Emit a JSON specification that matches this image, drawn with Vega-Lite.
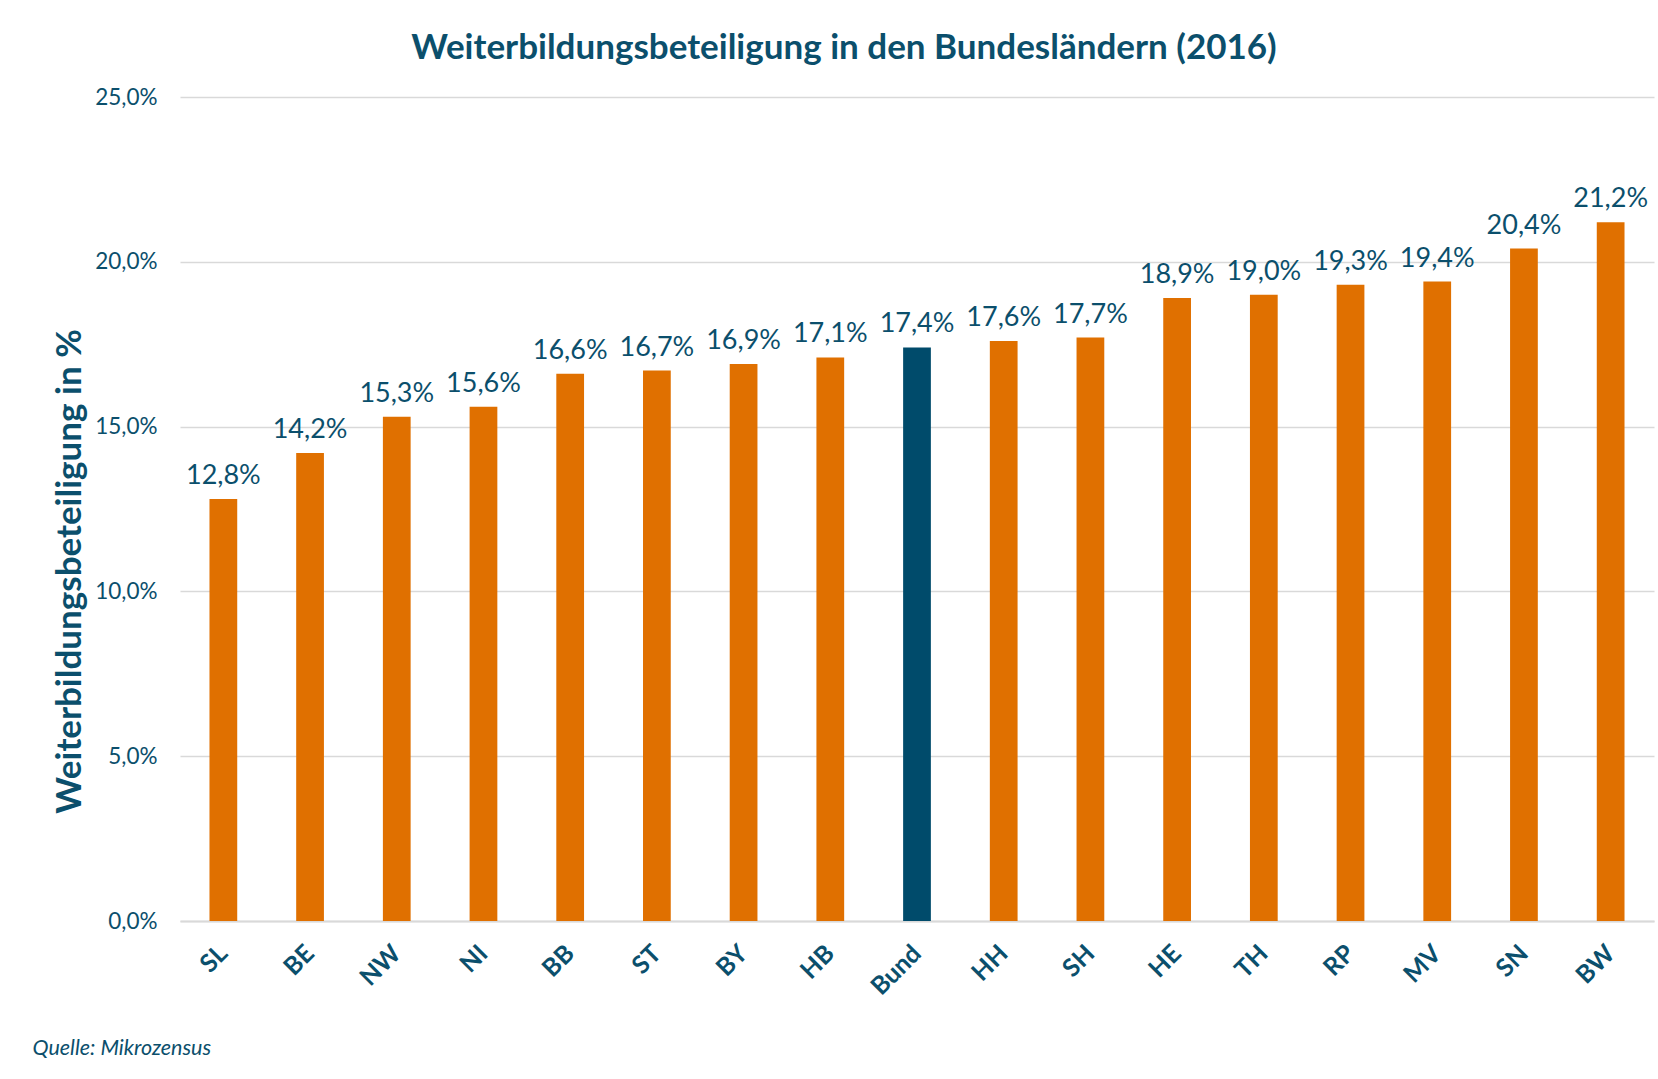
{
  "$schema": "https://vega.github.io/schema/vega-lite/v6.json",
  "width": 1474,
  "height": 824,
  "autosize": "none",
  "padding": {"left": 180, "top": 97, "right": 4, "bottom": 158},
  "background": "white",
  "title": {
    "text": "Weiterbildungsbeteiligung in den Bundesländern (2016)",
    "font": "Lato",
    "fontSize": 35,
    "fontWeight": "bold",
    "color": "#0b4f6c",
    "anchor": "middle",
    "dx": -73,
    "offset": 20
  },
  "config": {
    "locale": {"number": {"decimal": ",", "thousands": ".", "grouping": [3], "currency": ["", " €"]}},
    "view": {"stroke": null}
  },
  "data": {
    "values": [
      {"land": "SL", "wert": 0.128},
      {"land": "BE", "wert": 0.142},
      {"land": "NW", "wert": 0.153},
      {"land": "NI", "wert": 0.156},
      {"land": "BB", "wert": 0.166},
      {"land": "ST", "wert": 0.167},
      {"land": "BY", "wert": 0.169},
      {"land": "HB", "wert": 0.171},
      {"land": "Bund", "wert": 0.174},
      {"land": "HH", "wert": 0.176},
      {"land": "SH", "wert": 0.177},
      {"land": "HE", "wert": 0.189},
      {"land": "TH", "wert": 0.190},
      {"land": "RP", "wert": 0.193},
      {"land": "MV", "wert": 0.194},
      {"land": "SN", "wert": 0.204},
      {"land": "BW", "wert": 0.212}
    ]
  },
  "encoding": {
    "x": {
      "field": "land",
      "type": "nominal",
      "sort": null,
      "scale": {"paddingInner": 0.68, "paddingOuter": 0.34},
      "axis": {
        "title": "Quelle: Mikrozensus",
        "titleFont": "Lato",
        "titleFontSize": 21.5,
        "titleFontStyle": "italic",
        "titleFontWeight": "normal",
        "titleColor": "#0b4f6c",
        "titleAnchor": "start",
        "titleAlign": "left",
        "titleBaseline": "middle",
        "titleX": -148,
        "titleY": 127,
        "domain": true,
        "domainColor": "#d9d9d9",
        "domainWidth": 2,
        "ticks": false,
        "labelAngle": -45,
        "labelAlign": "right",
        "labelBaseline": "middle",
        "labelFont": "Lato",
        "labelFontSize": 25,
        "labelFontWeight": "bold",
        "labelColor": "#0b4f6c",
        "labelPadding": 28
      }
    },
    "y": {
      "field": "wert",
      "type": "quantitative",
      "scale": {"domain": [0, 0.25]},
      "axis": {
        "values": [0, 0.05, 0.1, 0.15, 0.2, 0.25],
        "format": ".1%",
        "domain": false,
        "ticks": false,
        "grid": true,
        "gridColor": "#d9d9d9",
        "gridWidth": 1.5,
        "labelFont": "Lato",
        "labelFontSize": 22.5,
        "labelColor": "#0b4f6c",
        "labelPadding": 23,
        "title": "Weiterbildungsbeteiligung in %",
        "titleFont": "Lato",
        "titleFontSize": 35,
        "titleFontWeight": "bold",
        "titleColor": "#0b4f6c",
        "titleAngle": -90,
        "titleAlign": "center",
        "titleBaseline": "middle",
        "titleX": -111,
        "titleY": 474
      }
    }
  },
  "layer": [
    {
      "mark": {"type": "bar"},
      "encoding": {
        "color": {
          "condition": {"test": "datum.land === 'Bund'", "value": "#004b6b"},
          "value": "#e07000"
        }
      }
    },
    {
      "mark": {"type": "text", "baseline": "bottom", "dy": -9, "font": "Lato", "fontSize": 27, "color": "#0b4f6c"},
      "encoding": {
        "text": {"field": "wert", "type": "quantitative", "format": ".1%"}
      }
    }
  ]
}
